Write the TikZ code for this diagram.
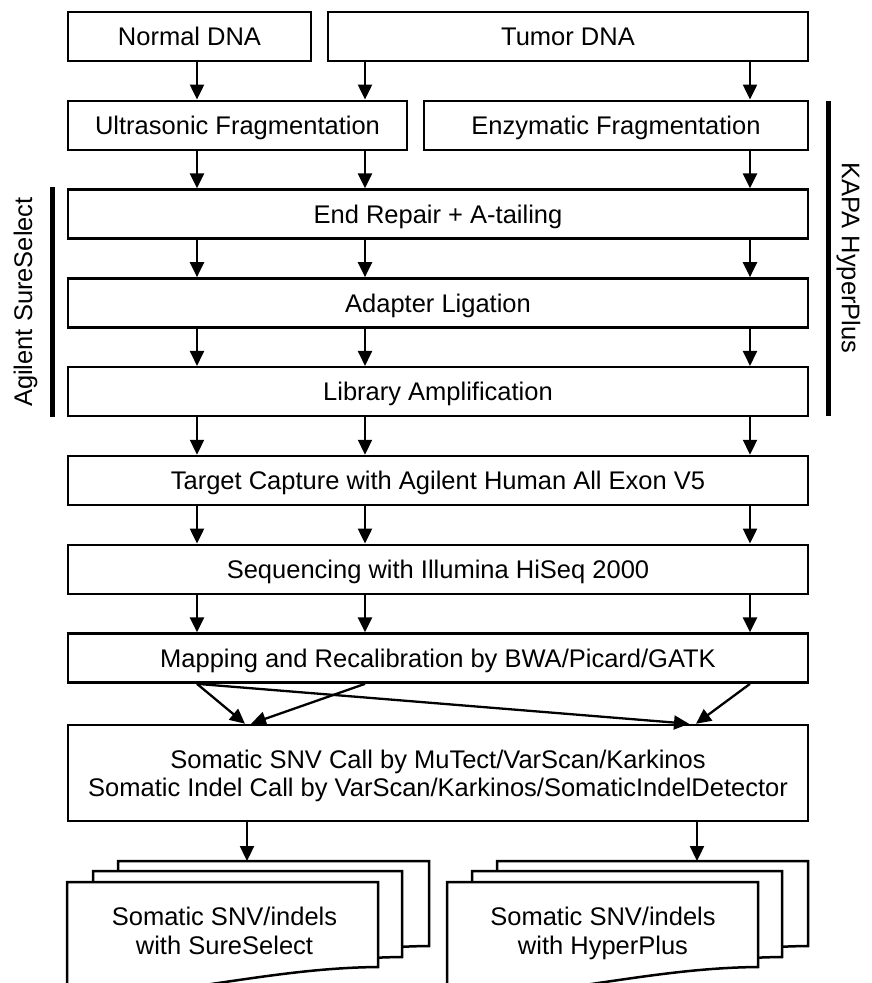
\documentclass[tikz,border=0pt]{standalone}
\usepackage{fontspec}
\setmainfont{Liberation Sans}
\usetikzlibrary{arrows.meta}
\newcommand\myfs{\fontsize{25.5pt}{28.5pt}\selectfont}
\newcommand\mydoc[4]{\path[docline] (#1,#3) -- (#2,#3) -- (#2,#4) .. controls ({#2-0.35*(#2-#1)},#4+1) and ({#2-0.65*(#2-#1)},#4+30) .. (#1,#4+30) -- cycle;}
\begin{document}
\begin{tikzpicture}[x=1pt,y=-1pt,
  box/.style={draw=black,line width=2.5pt,fill=white,minimum height=49pt,inner sep=0pt,font=\myfs,text height=18.3pt,text depth=0pt},
  bigbox/.style={draw=black,line width=2.5pt,fill=white,minimum height=96pt,inner sep=0pt,font=\myfs,align=center},
  arr/.style={line width=2.3pt,-{Triangle[length=15pt,width=14pt]}},
  docline/.style={draw=black,line width=2.5pt,fill=white},
  doctext/.style={font=\myfs,align=center,inner sep=0pt},
  sidebar/.style={line width=5pt},
  sidelabel/.style={font=\myfs,inner sep=0pt,text height=18.3pt,text depth=0pt}]
\useasboundingbox (0,0) rectangle (872,983);
\clip (0,0) rectangle (872,983);
\fill[white] (0,0) rectangle (872,983);

% boxes
\node[box,minimum width=243pt] (normal) at (189.5,36.5) {Normal DNA};
\node[box,minimum width=480pt] (tumor) at (568,36.5) {Tumor DNA};
\node[box,minimum width=339pt] (ultra) at (237.5,125.3) {Ultrasonic Fragmentation};
\node[box,minimum width=384pt] (enzy) at (616,125.3) {Enzymatic Fragmentation};
\node[box,minimum width=740pt] (endrep) at (438,214.1) {End Repair + A-tailing};
\node[box,minimum width=740pt] (adapter) at (438,302.9) {Adapter Ligation};
\node[box,minimum width=740pt] (libamp) at (438,391.7) {Library Amplification};
\node[box,minimum width=740pt] (capture) at (438,480.5) {Target Capture with Agilent Human All Exon V5};
\node[box,minimum width=740pt] (seq) at (438,569.3) {Sequencing with Illumina HiSeq 2000};
\node[box,minimum width=740pt] (map) at (438,658.1) {Mapping and Recalibration by BWA/Picard/GATK};
\node[bigbox,minimum width=740pt] (som) at (438,773) {\rule{0pt}{27.6pt}Somatic SNV Call by MuTect/VarScan/Karkinos\\Somatic Indel Call by VarScan/Karkinos/SomaticIndelDetector\strut};

% side bars and labels
\draw[sidebar] (52,187) -- (52,417);
\draw[sidebar] (828,101) -- (828,416);
\node[sidelabel,rotate=90] (agilent) at (23,302) {Agilent SureSelect};
\node[sidelabel,rotate=-90] (kapa) at (851,258) {KAPA HyperPlus};

% column coordinates
\coordinate (xa) at (197,0);
\coordinate (xb) at (365,0);
\coordinate (xc) at (750,0);
\coordinate (ta) at (245,0);
\coordinate (tb) at (251,0);
\coordinate (tc) at (689,0);
\coordinate (td) at (696,0);

% arrows
\draw[arr] (normal.south -| xa) -- (ultra.north -| xa);
\draw[arr] (tumor.south -| xb) -- (ultra.north -| xb);
\draw[arr] (tumor.south -| xc) -- (enzy.north -| xc);
\draw[arr] (ultra.south -| xa) -- (endrep.north -| xa);
\draw[arr] (ultra.south -| xb) -- (endrep.north -| xb);
\draw[arr] (enzy.south -| xc) -- (endrep.north -| xc);
\foreach \u/\v in {endrep/adapter,adapter/libamp,libamp/capture,capture/seq,seq/map}{
  \foreach \c in {xa,xb,xc}{
    \draw[arr] (\u.south -| \c) -- (\v.north -| \c);
  }
}
\draw[arr] (map.south -| xa) -- (som.north -| ta);
\draw[arr] (map.south -| xb) -- (som.north -| tb);
\draw[arr] (map.south -| xa) -- (som.north -| tc);
\draw[arr] (map.south -| xc) -- (som.north -| td);

% documents
\mydoc{118}{429}{861}{946}
\mydoc{93}{402}{871}{957}
\mydoc{67}{378}{882}{967}
\mydoc{497}{808}{861}{946}
\mydoc{472}{782}{871}{957}
\mydoc{447}{758}{882}{967}
\node[doctext] (docLtext) at (224.5,934.5) {\strut Somatic SNV/indels\\with SureSelect\strut};
\node[doctext] (docRtext) at (603,934.5) {\strut Somatic SNV/indels\\with HyperPlus\strut};

\coordinate (docLtop) at (247,861);
\coordinate (docRtop) at (697,861);
\draw[arr] (som.south -| docLtop) -- (docLtop);
\draw[arr] (som.south -| docRtop) -- (docRtop);
\end{tikzpicture}
\end{document}
